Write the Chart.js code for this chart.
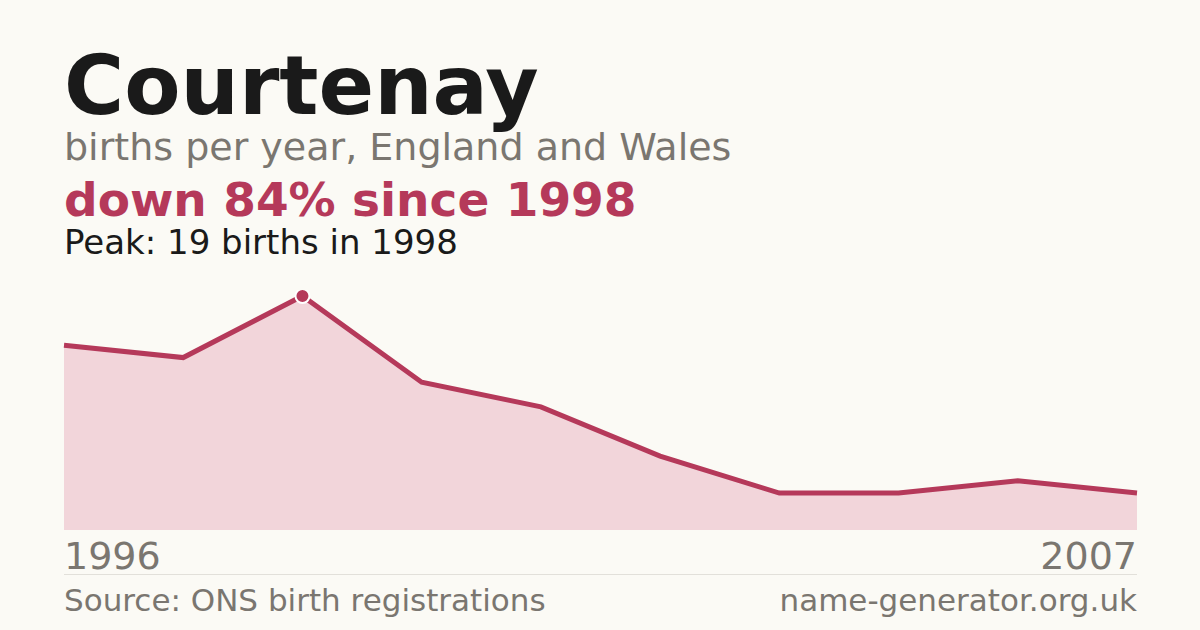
<!DOCTYPE html>
<html>
<head>
<meta charset="utf-8">
<script src="https://cdn.jsdelivr.net/npm/chart.js@4/dist/chart.umd.min.js"></script>
<style>
  body { margin: 0; width: 1200px; height: 630px; background: #fbfaf5; font-family: "DejaVu Sans", sans-serif; overflow: hidden; position: relative; }
  .t { position: absolute; left: 64px; white-space: nowrap; }
  #title { top: 38px; font-size: 82px; font-weight: bold; color: #1a1a1a; }
  #sub { top: 125px; font-size: 38px; color: #7a7670; }
  #change { top: 172px; font-size: 47px; font-weight: bold; color: #b5395a; }
  #peak { top: 222px; font-size: 34px; color: #1a1a1a; }
  #wrap { position: absolute; left: 54px; top: 290px; width: 1093px; height: 240px; }
  .yr { position: absolute; top: 534px; font-size: 38px; color: #7a7670; }
  #rule { position: absolute; left: 64px; width: 1073px; top: 574px; height: 1px; background: #e2e0da; }
  .foot { position: absolute; top: 582px; font-size: 31px; color: #7a7670; }
</style>
</head>
<body>
<div class="t" id="title">Courtenay</div>
<div class="t" id="sub">births per year, England and Wales</div>
<div class="t" id="change">down 84% since 1998</div>
<div class="t" id="peak">Peak: 19 births in 1998</div>
<div id="wrap"><canvas id="c"></canvas></div>
<div class="yr" style="left:64px">1996</div>
<div class="yr" style="right:63px">2007</div>
<div id="rule"></div>
<div class="foot" style="left:64px">Source: ONS birth registrations</div>
<div class="foot" style="right:63px">name-generator.org.uk</div>
<script>
const years = ['1996', '1997', '1998', '1999', '2000', '2001', '2002', '2003', '2004', '2007'];
const births = [15, 14, 19, 12, 10, 6, 3, 3, 4, 3];
const peakIndex = 2;

new Chart(document.getElementById('c'), {
    type: 'line',
    data: {
        labels: years,
        datasets: [{
            data: births,
            borderColor: '#b5395a',
            backgroundColor: '#f2d5da',
            borderWidth: 5,
            fill: 'origin',
            tension: 0,
            pointRadius: births.map((v, i) => i === peakIndex ? 7 : 0),
            pointBackgroundColor: '#b5395a',
            pointBorderColor: '#ffffff',
            pointBorderWidth: 2,
            clip: false
        }]
    },
    options: {
        responsive: true,
        maintainAspectRatio: false,
        animation: false,
        layout: { padding: { left: 10, right: 10, top: 6, bottom: 0 } },
        plugins: { legend: { display: false }, tooltip: { enabled: false } },
        scales: {
            x: { display: false },
            y: { display: false, min: 0, max: 19 }
        }
    }
});
</script>
</body>
</html>
